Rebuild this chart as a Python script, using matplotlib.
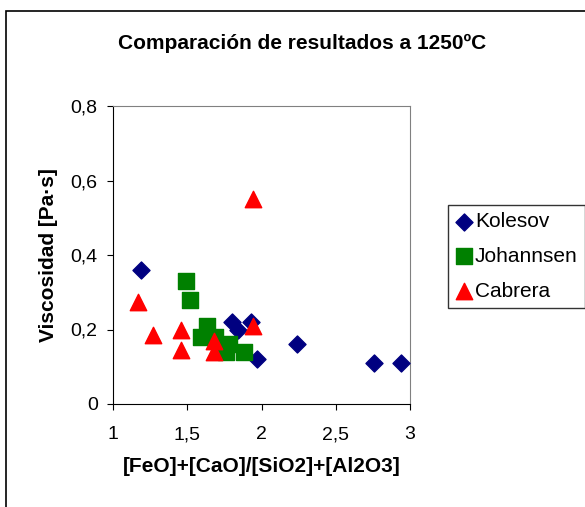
import matplotlib.pyplot as plt
from matplotlib.patches import Rectangle
from matplotlib.ticker import FuncFormatter

plt.rcParams['font.family'] = ['Liberation Sans', 'DejaVu Sans']

kolesov_x = [1.19, 1.80, 1.84, 1.93, 1.97, 2.24, 2.76, 2.94]
kolesov_y = [0.36, 0.22, 0.20, 0.22, 0.12, 0.16, 0.11, 0.11]

johannsen_x = [1.49, 1.52, 1.63, 1.59, 1.69, 1.78, 1.76, 1.88]
johannsen_y = [0.33, 0.28, 0.21, 0.18, 0.18, 0.16, 0.14, 0.14]

cabrera_x = [1.94, 1.17, 1.27, 1.46, 1.46, 1.68, 1.68, 1.94]
cabrera_y = [0.55, 0.275, 0.185, 0.20, 0.145, 0.17, 0.14, 0.21]

fig = plt.figure(figsize=(5.85, 5.07), dpi=100)
fig.patches.append(Rectangle((6/585, -0.05), 1.1, 1 - 11/507 + 0.05,
                             transform=fig.transFigure, fill=False,
                             edgecolor='black', lw=1.2))
ax = fig.add_axes([113/585, 103/507, 297/585, 298/507])

ax.scatter(kolesov_x, kolesov_y, marker='D', s=75, c='#000080', label='Kolesov', zorder=3)
ax.scatter(johannsen_x, johannsen_y, marker='s', s=130, c='#008000', label='Johannsen', zorder=3)
ax.scatter(cabrera_x, cabrera_y, marker='^', s=140, c='#ff0000', label='Cabrera', zorder=3)

ax.set_xlim(1, 3)
ax.set_ylim(0, 0.8)
ax.set_xticks([1, 1.5, 2, 2.5, 3])
ax.set_yticks([0, 0.2, 0.4, 0.6, 0.8])
fmt = FuncFormatter(lambda v, p: ('%g' % v).replace('.', ','))
ax.xaxis.set_major_formatter(fmt)
ax.yaxis.set_major_formatter(fmt)
ax.tick_params(direction='out', length=4, labelsize=14)
ax.tick_params(axis='y', pad=7)
ax.tick_params(axis='x', pad=12)
for s in ['top', 'right']:
    ax.spines[s].set_color('#808080')
for s in ['left', 'bottom']:
    ax.spines[s].set_color('black')

ax.set_xlabel('[FeO]+[CaO]/[SiO2]+[Al2O3]', fontsize=15, fontweight='bold', labelpad=10)
ax.set_ylabel('Viscosidad [Pa·s]', fontsize=15, fontweight='bold', labelpad=9)
fig.text(0.516, 1 - 43/507, 'Comparación de resultados a 1250ºC', fontsize=15,
         fontweight='bold', ha='center', va='center')

leg = fig.legend(loc='upper left', bbox_to_anchor=(448/585, 1 - 205/507), fontsize=15,
                 frameon=True, fancybox=False, edgecolor='black',
                 handletextpad=0.15, borderpad=0.35, labelspacing=0.75,
                 handlelength=0.8, scatterpoints=1, borderaxespad=0)
leg.get_frame().set_linewidth(1)

fig.savefig('out.png', dpi=100)
